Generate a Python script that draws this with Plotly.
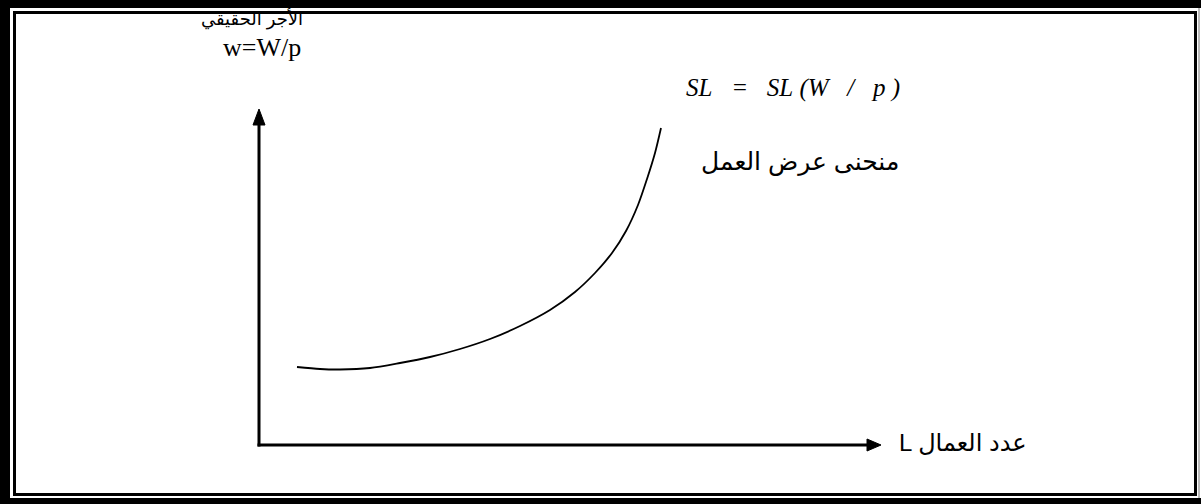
import plotly.graph_objects as go

# Labour supply curve (pixel-space schematic coordinates, y downward)
curve_x = [297, 320, 340, 370, 400, 430, 460, 490, 520, 550, 575, 595, 612, 626, 638, 647, 655, 661]
curve_y = [367, 369, 369.5, 368, 363, 357, 349, 339, 326, 310, 292, 273, 253, 231, 205, 179, 153, 128]

# Axis origin and arrow tips
origin = (259, 445)
y_tip = 109
x_tip = 881

NB = "\u00a0"
y_label_ar = "الأجر الحقيقي"
y_label_sym = "w=W/p"
curve_eq = f"<i>SL{NB*3}={NB*3}SL{NB}(W{NB*3}/{NB*3}p{NB})</i>"
curve_name = "منحنى عرض العمل"
x_label = "L عدد العمال"

W, H = 1201, 504
fig = go.Figure()
fig.add_trace(go.Scatter(x=curve_x, y=curve_y, mode="lines",
                         line=dict(color="black", width=1.8, shape="spline", smoothing=0.8),
                         hoverinfo="skip", showlegend=False))

shapes = []
blk = dict(type="rect", line=dict(width=0), fillcolor="black", layer="above",
           xref="x", yref="y")
shapes += [
    dict(blk, x0=0, x1=W, y0=0, y1=8),
    dict(blk, x0=0, x1=10, y0=0, y1=H),
    dict(blk, x0=0, x1=W, y0=498, y1=H),
    dict(blk, x0=13, x1=16, y0=11, y1=496),
    dict(blk, x0=13, x1=1197, y0=11, y1=14),
    dict(blk, x0=1194, x1=1197, y0=11, y1=496),
    dict(blk, x0=13, x1=1197, y0=493, y1=496),
    dict(type="rect", xref="x", yref="y", x0=1198, x1=1200, y0=8, y1=498,
         line=dict(width=0), fillcolor="#bbbbbb", layer="above"),
]
shapes += [
    dict(type="line", xref="x", yref="y", x0=origin[0], y0=origin[1] + 1.5, x1=origin[0], y1=y_tip + 14,
         line=dict(color="black", width=3)),
    dict(type="line", xref="x", yref="y", x0=origin[0] - 1.5, y0=origin[1], x1=x_tip - 12, y1=origin[1],
         line=dict(color="black", width=3)),
    dict(type="path", xref="x", yref="y",
         path=f"M {origin[0]-6},{y_tip+16} L {origin[0]},{y_tip} L {origin[0]+6},{y_tip+16} Z",
         fillcolor="black", line=dict(color="black", width=1)),
    dict(type="path", xref="x", yref="y",
         path=f"M {x_tip-14},{origin[1]-6} L {x_tip},{origin[1]} L {x_tip-14},{origin[1]+6} Z",
         fillcolor="black", line=dict(color="black", width=1)),
]

font_main = "Liberation Serif, Times New Roman, DejaVu Serif, serif"
font_ar = "Liberation Sans, Arial, DejaVu Sans, sans-serif"
ann = [
    dict(x=252, y=19, text=y_label_ar, font=dict(family=font_ar, size=18)),
    dict(x=262, y=47, text=y_label_sym, font=dict(family=font_main, size=26)),
    dict(x=793, y=88, text=curve_eq, font=dict(family=font_main, size=25)),
    dict(x=800, y=161, text=curve_name, font=dict(family=font_ar, size=25)),
    dict(x=963, y=442, text=x_label, font=dict(family=font_ar, size=24)),
]
for a in ann:
    a.update(xref="x", yref="y", showarrow=False, xanchor="center", yanchor="middle")
    a["font"]["color"] = "black"

fig.update_layout(
    width=W, height=H, margin=dict(l=0, r=0, t=0, b=0),
    paper_bgcolor="white", plot_bgcolor="white",
    xaxis=dict(range=[0, W], visible=False, fixedrange=True),
    yaxis=dict(range=[H, 0], visible=False, fixedrange=True),
    shapes=shapes, annotations=ann, showlegend=False,
)
fig.write_html("out.html", config={"displayModeBar": False},
               post_script="document.body.style.margin='0';document.body.style.overflow='hidden';")
